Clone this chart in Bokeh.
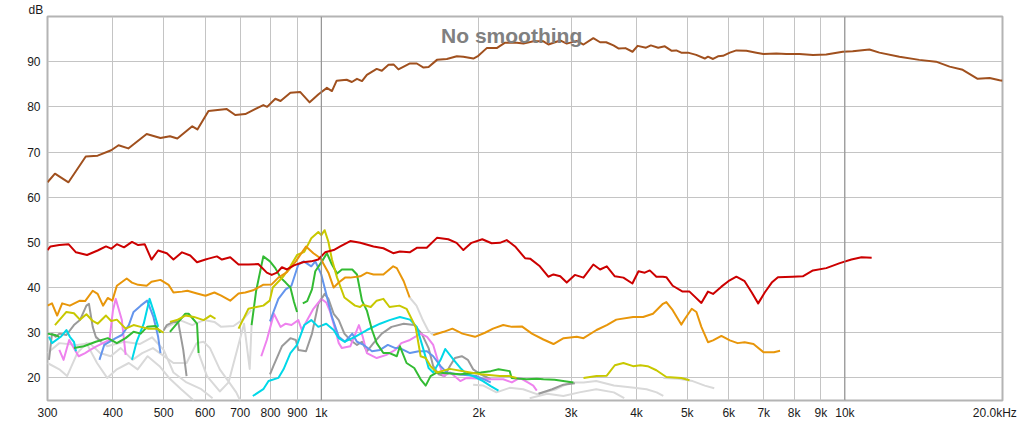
import math
from bokeh.plotting import figure
from bokeh.models import FixedTicker, Span, Label, CustomJSTickFormatter, Title
from bokeh.embed import file_html
from bokeh.resources import INLINE

nan = float("nan")

# ---------------- data (frequency in Hz, level in dB) ----------------
fund_f = [300,310,329,355,374,397,410,428,464,493,514,531,567,580,609,660,685,716,775,788,817,836,873,911,950,988,1025,1048,1070,1118,1144,1170,1196,1222,1276,1305,1344,1374,1404,1477,1522,1568,1603,1663,1737,1815,1868,1952,1995,2070,2163,2244,2363,2433,2542,2656,2715,2859,2943,3076,3168,3308,3408,3500,3614,3700,3810,3930,4020,4170,4260,4400,4530,4670,4764,4870,5016,5200,5400,5477,5600,5723,5850,6030,6205,6484,6775,6990,7396,7729,8193,8690,9213,9910,10350,11140,11640,12710,13870,14930,15850,16790,17930,18900,19740,20000]
fund_db = [63.3,65.2,63.3,69,69.2,70.4,71.5,70.8,74,73.1,73.5,73,75.7,75,79.1,79.5,78.2,78.4,80.4,80,81.8,81.3,83.1,83.3,81,82.8,84.2,83.5,85.8,86,85.5,86.2,85.7,87.1,88.4,88,89.3,89.4,88.3,89.6,89.6,88.7,88.8,90.4,90.6,91.2,91.1,90.7,91.3,93,93,94.2,94.2,94,94.5,94.5,93.8,94.7,94,94.6,93.8,95.2,94.3,94.3,93.6,92.9,93,92.2,93.5,93.1,93.6,93.1,93.4,92.4,92.5,92,92,91.5,90.7,91.1,90.6,91.2,91.3,92,92.5,92.4,92,91.7,91.8,91.7,91.7,91.5,91.6,92.2,92.3,92.7,92,91.1,90.4,90,88.9,88.2,86.2,86.4,85.9,85.8]

red_f = [300,304,316,329,340,357,374,388,397,407,420,435,447,460,474,488,507,522,542,562,579,601,609,632,646,670,695,726,758,787,804,823,841,860,887,922,957,987,1017,1056,1087,1136,1187,1258,1314,1372,1413,1475,1522,1590,1663,1748,1813,1868,1936,2030,2115,2193,2260,2345,2450,2505,2615,2714,2776,2860,2943,3050,3168,3308,3408,3510,3636,3776,3928,4035,4148,4240,4365,4493,4560,4690,4900,5050,5320,5477,5600,5810,5990,6205,6435,6640,6830,7030,7250,7450,7950,8310,8690,9213,9780,10290,10760,11250]
red_db = [48.3,49.1,49.4,49.6,47.8,47.2,48.2,49.1,48.6,49.6,48.9,50.1,49.4,49.6,46.2,48.2,47.6,46.2,47.8,47.1,45.6,46.2,46.4,46.9,46.2,46.7,45.1,45.1,45.2,43.3,42.8,43.3,44.5,44,44.9,45.6,45.8,46.2,47.8,48.3,49.1,50.3,49.9,49.1,48.7,47.6,48,47.8,48.8,48.8,51,50.7,49.9,48.3,49.9,50.7,49.8,49.9,50.5,49.1,46.5,46.4,44.7,42.4,42.9,42.5,41.1,42.8,42.2,45.1,44,44.7,42.5,42.2,40.9,43.6,43.3,43.8,42.4,42.4,42.3,40.4,39.1,39.1,36.6,39.1,38.6,40.2,41.4,42.4,41.4,38.9,36.5,38.9,41.1,42.3,42.4,42.5,43.8,44.3,45.4,46.2,46.7,46.6]

orange_f = [300,306,313,320,331,346,354,366,374,383,391,399,407,425,435,447,464,474,493,511,522,542,555,579,601,625,644,670,695,716,741,774,804,828,860,894,935,966,996,1032,1056,1080,1110,1136,1187,1222,1258,1314,1372,1394,1437,1475,nan,1636,1713,1780,1860,1966,2054,2128,2226,2312,2416,2525,2656,2776,2903,3076,3168,3355,3510,3660,3940,4118,4300,4493,4560,4690,4870,4950,5100,5205,5320,5477,5600,5810,6030,6240,6435,6690,6990,7320,7520]
orange_db = [36,36.5,33.8,36.5,36,37.1,37,39.3,38.6,36,37.7,37.1,40.4,42,41.1,40.6,40.4,41.3,41.7,40.6,38.9,39.1,39.3,38.7,38.2,38.9,38.2,37.1,38.7,38.9,39.4,40.6,40.7,42.2,43.4,45.8,49.1,47.6,46.5,43.3,40,41.1,42.2,42.2,42.5,43.3,42.9,42.9,44.7,44.3,41.4,37.8,nan,29.5,30.2,30.9,29.8,29.1,30,30.9,31.7,31.3,31.4,29.8,28.5,27.5,28.8,29.1,28.8,30.6,31.7,32.9,33.5,33.5,34.2,36.4,36.8,35,31.8,33.1,35.3,34.6,31.3,27.9,28.3,29.3,28.3,27.7,27.9,27.5,25.7,25.7,26]

yellow_f = [310,326,337,346,356,366,374,388,397,407,423,438,452,468,486,500,nan,514,530,550,571,596,614,628,nan,695,726,752,775,797,808,847,873,899,928,957,987,1000,1015,1032,1048,1072,1107,1160,1186,1200,1243,1276,1314,1350,1410,1455,1514,1548,1583,1617,1663,1760,1926,2016,2193,2290,2360,nan,3168,3355,3510,3636,3776,3940,4070,4200,4365,4560,4870,5050]
yellow_db = [31.7,34.6,34.3,32.9,34.1,32.6,32,33.8,32.6,32.9,30.9,31.7,31.3,30.9,30.9,30,nan,32.4,32.8,33.8,33.5,32.8,33.8,33.1,nan,30.9,35.3,35.7,36,37.1,40,42.5,44.7,47.2,47.9,50.9,52.3,51.6,52.7,50.1,46.2,42.2,37.8,36,35.7,36.2,35.7,37.1,37.5,35.7,36,35.3,31.3,24.8,24.4,22.6,21.2,22,21.2,20.8,20.4,20.4,20,nan,20,20.4,20.5,22.8,23.3,22.6,22.8,22.6,21.7,20.2,20,19.5]

green_f = [300,310,316,nan,337,352,371,391,407,423,438,452,465,483,493,nan,514,530,550,558,579,583,nan,736,751,775,798,817,836,855,873,887,899,nan,922,940,960,974,1003,1025,1048,1072,1095,1146,1170,1196,1222,1250,1276,1314,1350,1394,1413,1455,1505,1548,1583,1617,1663,1843,2016,2107,2180,2290,2310,2467,2580,2656,2790,3030]
green_db = [29.8,29.5,29.1,nan,26.6,27,28,28.8,27.7,28.8,30.2,29.8,31.3,31.5,30,nan,30.2,32,34.2,34.2,32,25.5,nan,31.7,39.3,46.9,45.8,44.3,42.2,41.1,40,36.8,34.6,nan,36.5,37,39.6,43.6,45.8,47.6,45.1,43.1,44,44,42.9,37.1,34.9,30.6,27.7,25.5,25.5,24.8,27,23.3,22.2,19.7,18.3,20.4,21.2,20.8,21.2,21.5,21.9,21.5,20,19.7,19.8,19.7,19.6,19]

blue_f = [377,385,405,416,429,438,452,465,478,488,493,nan,798,828,855,877,904,926,957,974,1000,1022,1048,1080,1110,1146,1170,1205,1250,1295,1340,1385,1413,1477,1535,1592,1636,1690,1737,1813,1980,2107]
blue_db = [24,27.3,28.8,29.5,31.7,34.6,36,37.1,33.5,29.1,25.5,nan,32.5,37.5,39.6,40.4,45.1,45.8,44.7,45.8,42.9,38.6,33.5,29.1,28,29.8,28,27.3,25.9,26.2,27.3,26.6,26.6,25.5,25.9,25.9,24.8,22.6,21.2,20.8,20.4,19]

cyan_f = [302,306,318,326,331,337,340,nan,435,444,458,470,478,488,nan,740,775,793,828,847,873,899,928,957,987,1022,1056,1080,1107,1160,1222,1295,1350,1413,1477,1522,1568,1603,1636,1690,1725,1790,1843,1895,1950,2036,2107,2180]
cyan_db = [29.1,27.7,29.1,30.6,29.1,28,25.9,nan,24,28,32,37.5,34.9,31.3,nan,16,17.5,19.3,20,21.9,25.5,27.3,31.7,32.8,31.3,32,30.6,28.8,28,29.1,30.6,32,32.8,33.5,32.9,31.3,26.2,22.2,21.2,24,26.4,24,22.2,20.8,20.4,19.3,18.2,17.2]

violet_f = [316,322,330,344,354,362,372,394,400,405,416,423,nan,768,787,812,836,855,877,904,918,940,966,1000,1022,1040,1062,1080,1095,1136,1180,1200,1222,1276,1332,1385,1422,1477,1548,1592,1636,1675,1713,1763,1843,1895,2107,2226,2312,2393,2480,2540,2580]
violet_db = [26.2,24,28.4,24.8,25.5,26.2,27,28.4,34.9,37.5,32.8,25.1,nan,24.8,28.4,34.2,31.3,32,31.7,32.8,30.6,32.8,35.3,37.5,36.7,34.6,30.9,27.7,26.6,27,31.7,29.1,25.5,24.4,25.1,26.2,27.7,28.4,29.8,29.1,27.3,23.3,20.4,21.2,19.3,20,19.7,19.7,19,20,19,18.3,17.2]

gray_f = [302,306,311,316,326,337,346,356,360,366,371,380,nan,500,507,522,533,545,553,nan,798,810,841,873,894,904,935,960,987,1015,1032,1056,1080,1107,1136,1170,1196,1222,1258,1305,1362,1437,1505,1555,1603,1636,1675,1720,1760,1800,1855,1905,1950,2016,2107,nan,2600,2760,2900,3050]
gray_db = [24,29.8,29.1,29.8,29.5,31.7,32.8,36,36.4,31.3,29.1,28,nan,30.5,31.7,32.4,32.4,26.2,20.4,nan,20.8,22.6,27,28.8,28.4,26.2,25.9,29.8,36.4,38.6,37.5,34.2,32.8,29.8,28.4,27.3,28,25.9,27.7,29.8,31.3,32,31.7,29.8,26.6,22.6,20.8,20.4,22.6,24.4,24.8,24,21.9,20.8,19.7,nan,16.5,17.5,18.5,18.8]

lg1_f = [300,316,327,342,356,373,390,407,429,446,466,491,512,540,571]
lg1_db = [23.3,21.9,20.4,25.5,27.7,23.3,20,21.9,23.3,21.9,24.8,22.6,20,17.5,15]
lg2_f = [300,316,342,361,378,396,414,436,455,477,497,522,553,578,596,613,640,667,688,700]
lg2_db = [25.5,27.7,27.3,27.7,25.5,24.8,26.6,24,25.5,26.6,25.1,23.3,23.3,27.7,28,26.6,21.9,19,16.8,15]
lg3_f = [583,605,640,665,690,712,730,736]
lg3_db = [25.5,20.4,17,19,26,32,22,31.7]
lg4_f = [500,537,567,597,625,644,680,710,735]
lg4_db = [30.9,32.8,31.7,32.8,32.4,31.3,31.5,33,35]
lg5_f = [370,390,420,450,475,500,522,553,590,620]
lg5_db = [29,27,28,27.5,29,26.2,21.2,19,17.5,15.5]
lg6_f = [1475,1520,1560,1600,1636]
lg6_db = [37.8,36,33,30.5,29.5]
lg7_f = [1950,2040,2160,2290,2430,2580,2810,2990,3170,3350,3620,3960,4180,4370,4500]
lg7_db = [18.5,18.3,16.8,17.8,17.5,16.4,17.5,19,19,19.3,18.3,17.8,17.5,16.8,16]
lg8_f = [2500,2700,2900,3110,3350,3620,3790]
lg8_db = [15.5,16.5,16,16.8,17.5,16.8,15.5]
lg9_f = [4500,4800,5120,5400,5630]
lg9_db = [20,19.8,19.3,18.3,17.7]

x_ticks = [300,400,500,600,700,800,900,1000,2000,3000,4000,5000,6000,7000,8000,9000,10000]
end_tick = [19340]
y_ticks = [20,30,40,50,60,70,80,90]

# ---------------- figure ----------------
font = "Liberation Sans"
p = figure(width=1020, height=422, x_axis_type="log", x_range=(300, 20000), y_range=(15, 100),
           output_backend="svg", toolbar_location=None,
           min_border_left=47, min_border_right=18, min_border_top=14, min_border_bottom=19)
p.title = Title(text="dB", align="left", offset=-19, text_font=font, text_font_size="12px",
                text_font_style="normal", text_color="#1a1a1a", standoff=0)
p.background_fill_color = "white"
p.border_fill_color = "white"
p.outline_line_color = "#b4b4b4"
p.outline_line_width = 2

p.xaxis.ticker = FixedTicker(ticks=x_ticks + end_tick, minor_ticks=[])
p.xaxis.formatter = CustomJSTickFormatter(code="""
if (tick > 15000) { return '20.0kHz'; }
if (tick >= 1000) { return (Math.round(tick/1000)).toString() + 'k'; }
return Math.round(tick).toString();
""")
p.yaxis.ticker = FixedTicker(ticks=y_ticks, minor_ticks=[])
for ax in (p.xaxis, p.yaxis):
    ax.axis_line_color = None
    ax.major_tick_line_color = None
    ax.minor_tick_line_color = None
    ax.major_tick_out = 0
    ax.major_tick_in = 0
    ax.major_label_text_font = font
    ax.major_label_text_font_size = "12px"
    ax.major_label_text_color = "#1a1a1a"
p.xaxis.major_label_standoff = 5
p.yaxis.major_label_standoff = 7

p.xgrid.ticker = FixedTicker(ticks=x_ticks, minor_ticks=[])
p.ygrid.ticker = FixedTicker(ticks=y_ticks, minor_ticks=[])
p.xgrid.grid_line_color = "#c4c4c4"
p.ygrid.grid_line_color = "#c4c4c4"
p.xgrid.grid_line_width = 1
p.ygrid.grid_line_width = 1

for loc in (1000, 10000):
    p.add_layout(Span(location=loc, dimension="height", line_color="#8a8a8a", line_width=1))

series = [
    (lg1_f, lg1_db, "#d9d9d9"), (lg2_f, lg2_db, "#d9d9d9"), (lg3_f, lg3_db, "#d9d9d9"),
    (lg4_f, lg4_db, "#d9d9d9"), (lg5_f, lg5_db, "#d9d9d9"), (lg6_f, lg6_db, "#d9d9d9"),
    (lg7_f, lg7_db, "#d9d9d9"), (lg8_f, lg8_db, "#d9d9d9"), (lg9_f, lg9_db, "#d9d9d9"),
    (gray_f, gray_db, "#9a9a9a"),
    (violet_f, violet_db, "#ee82ee"),
    (blue_f, blue_db, "#6495ed"),
    (cyan_f, cyan_db, "#00d8e8"),
    (green_f, green_db, "#33bb33"),
    (yellow_f, yellow_db, "#c8c800"),
    (orange_f, orange_db, "#e8960a"),
    (red_f, red_db, "#cc0000"),
    (fund_f, fund_db, "#a0501e"),
]
for f, d, c in series:
    p.line(f, d, line_color=c, line_width=2, line_join="round")

p.add_layout(Label(x=2310, y=95.8, text="No smoothing", text_align="center", text_baseline="alphabetic",
                   text_font=font, text_font_size="21px", text_font_style="bold",
                   text_color="#808080"))

open("out.html", "w").write(file_html(p, INLINE))
